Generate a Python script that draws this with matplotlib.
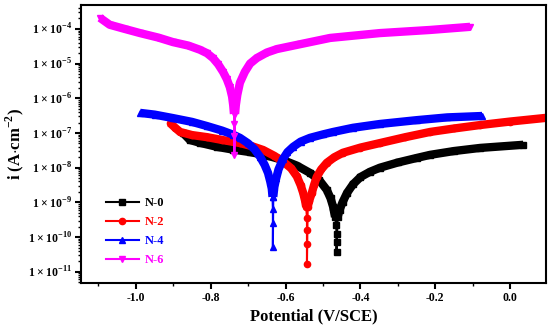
import numpy as np
import matplotlib
matplotlib.use('Agg')
import matplotlib.pyplot as plt
import matplotlib.ticker as ticker

plt.rcParams['font.family'] = ['Liberation Serif', 'DejaVu Serif']
plt.rcParams['font.weight'] = 'bold'
plt.rcParams['mathtext.fontset'] = 'custom'
plt.rcParams['mathtext.rm'] = 'Liberation Serif:bold'
plt.rcParams['mathtext.bf'] = 'Liberation Serif:bold'

# Potential (V/SCE) and log10(current density, A/cm2)
n0_v = [-0.874, -0.856, -0.830, -0.783, -0.740, -0.695, -0.650, -0.607, -0.570, -0.535, -0.510,
        -0.490, -0.480, -0.473, -0.468, -0.465, -0.464, -0.464, -0.464,
        -0.461, -0.456, -0.448, -0.436, -0.420, -0.400, -0.375, -0.348, -0.300, -0.250, -0.214,
        -0.150, -0.080, 0.035]
n0_logi = [-7.00, -7.20, -7.28, -7.40, -7.48, -7.55, -7.65, -7.78, -7.94, -8.15, -8.36,
           -8.64, -8.88, -9.13, -9.42, -9.65, -9.90, -10.15, -10.43,
           -9.42, -9.22, -9.00, -8.73, -8.48, -8.27, -8.12, -8.00, -7.85, -7.72, -7.63,
           -7.52, -7.43, -7.34]

n2_v = [-0.909, -0.895, -0.882, -0.850, -0.810, -0.770, -0.722, -0.690, -0.660, -0.630, -0.607,
        -0.585, -0.570, -0.560, -0.553, -0.548, -0.545, -0.543, -0.543, -0.543, -0.543,
        -0.541, -0.537, -0.530, -0.524, -0.517, -0.505, -0.490, -0.470, -0.447, -0.400, -0.348,
        -0.280, -0.214, -0.150, -0.080, 0.000, 0.099]
n2_logi = [-6.71, -6.85, -6.97, -7.06, -7.12, -7.20, -7.29, -7.38, -7.49, -7.66, -7.82,
           -8.02, -8.25, -8.50, -8.73, -8.95, -9.13, -9.45, -9.80, -10.20, -10.77,
           -9.13, -8.95, -8.73, -8.50, -8.27, -8.05, -7.86, -7.70, -7.57, -7.42, -7.29,
           -7.12, -6.97, -6.87, -6.77, -6.67, -6.56]

n4_v = [-0.989, -0.950, -0.901, -0.850, -0.810, -0.770, -0.740, -0.722, -0.700, -0.683, -0.668,
        -0.656, -0.647, -0.641, -0.637, -0.635, -0.634, -0.634, -0.634,
        -0.633, -0.630, -0.625, -0.619, -0.607, -0.595, -0.580, -0.560, -0.535, -0.500, -0.473,
        -0.420, -0.348, -0.250, -0.168, -0.075]
n4_logi = [-6.42, -6.47, -6.57, -6.68, -6.80, -6.93, -7.05, -7.14, -7.30, -7.47, -7.69,
           -7.92, -8.15, -8.40, -8.60, -8.84, -9.20, -9.60, -10.28,
           -8.84, -8.55, -8.30, -8.05, -7.75, -7.55, -7.40, -7.25, -7.14, -7.04, -6.97,
           -6.85, -6.74, -6.63, -6.55, -6.51]

n6_v = [-1.096, -1.070, -1.030, -0.989, -0.940, -0.901, -0.860, -0.829, -0.810, -0.794, -0.780,
        -0.767, -0.757, -0.749, -0.743, -0.740, -0.738, -0.737, -0.737, -0.737,
        -0.735, -0.733, -0.729, -0.722, -0.709, -0.695, -0.677, -0.650, -0.623, -0.561, -0.481,
        -0.348, -0.214, -0.107]
n6_logi = [-3.68, -3.88, -4.00, -4.12, -4.25, -4.38, -4.48, -4.60, -4.70, -4.84, -5.02,
           -5.24, -5.45, -5.68, -5.95, -6.20, -6.45, -6.75, -7.10, -7.63,
           -6.45, -6.20, -5.90, -5.55, -5.24, -5.00, -4.84, -4.68, -4.58, -4.44, -4.26,
           -4.12, -4.03, -3.94]

labels = ['N-0', 'N-2', 'N-4', 'N-6']
colors = ['black', 'red', 'blue', 'magenta']
markers = ['s', 'o', '^', 'v']
series = [(n0_v, n0_logi), (n2_v, n2_logi), (n4_v, n4_logi), (n6_v, n6_logi)]
band_floor = [-9.42, -9.13, -8.84, -6.45]  # where the dense marker band thins out

fig = plt.figure(figsize=(5.5, 3.32), dpi=100)
ax = fig.add_axes([0.147, 0.148, 0.846, 0.837])

for (v, li), lab, c, m, fl in zip(series, labels, colors, markers, band_floor):
    v = np.array(v)
    li = np.array(li)
    cur = 10 ** li
    k = np.argmin(li)
    left = np.arange(k)[li[:k] >= fl - 1e-9]
    right = np.arange(k + 1, len(li))[li[k + 1:] >= fl - 1e-9]
    ax.plot(v, cur, color=c, lw=1.5, marker=m, ms=4.5, label=lab)
    ax.plot(v[left], cur[left], color=c, lw=6, solid_capstyle='butt', solid_joinstyle='round')
    ax.plot(v[right], cur[right], color=c, lw=6, solid_capstyle='butt', solid_joinstyle='round')

ax.set_yscale('log')
ax.set_xlim(-1.147, 0.096)
ax.set_ylim(10 ** -11.32, 10 ** -3.31)

yt = [1e-11, 1e-10, 1e-9, 1e-8, 1e-7, 1e-6, 1e-5, 1e-4]
ax.set_yticks(yt)
ax.set_yticklabels([r'$1\times10^{%d}$' % int(round(np.log10(t))) for t in yt])
ax.yaxis.set_minor_locator(ticker.LogLocator(base=10, subs=np.arange(2, 10)))
ax.yaxis.set_minor_formatter(ticker.NullFormatter())

ax.xaxis.set_major_locator(ticker.MultipleLocator(0.2))
ax.xaxis.set_minor_locator(ticker.MultipleLocator(0.1))
ax.xaxis.set_major_formatter(ticker.FormatStrFormatter('%.1f'))

ax.tick_params(axis='both', which='major', direction='out', length=4, width=1.5, labelsize=8.5, pad=2.5)
ax.tick_params(axis='both', which='minor', direction='out', length=2.5, width=1)
for s in ax.spines.values():
    s.set_linewidth(1.5)

ax.set_xlabel('Potential (V/SCE)', fontsize=12, fontweight='bold', labelpad=3)
ax.set_ylabel(r'i (A$\cdot$cm$^{-2}$)', fontsize=12, fontweight='bold', labelpad=1)

leg = ax.legend(loc='lower left', bbox_to_anchor=(0.03, 0.02), frameon=False, fontsize=9,
                handlelength=2.6, labelspacing=0.55, handletextpad=0.5)
for t, c in zip(leg.get_texts(), colors):
    t.set_color(c)
    t.set_fontweight('bold')

fig.savefig('out.png', dpi=100)
